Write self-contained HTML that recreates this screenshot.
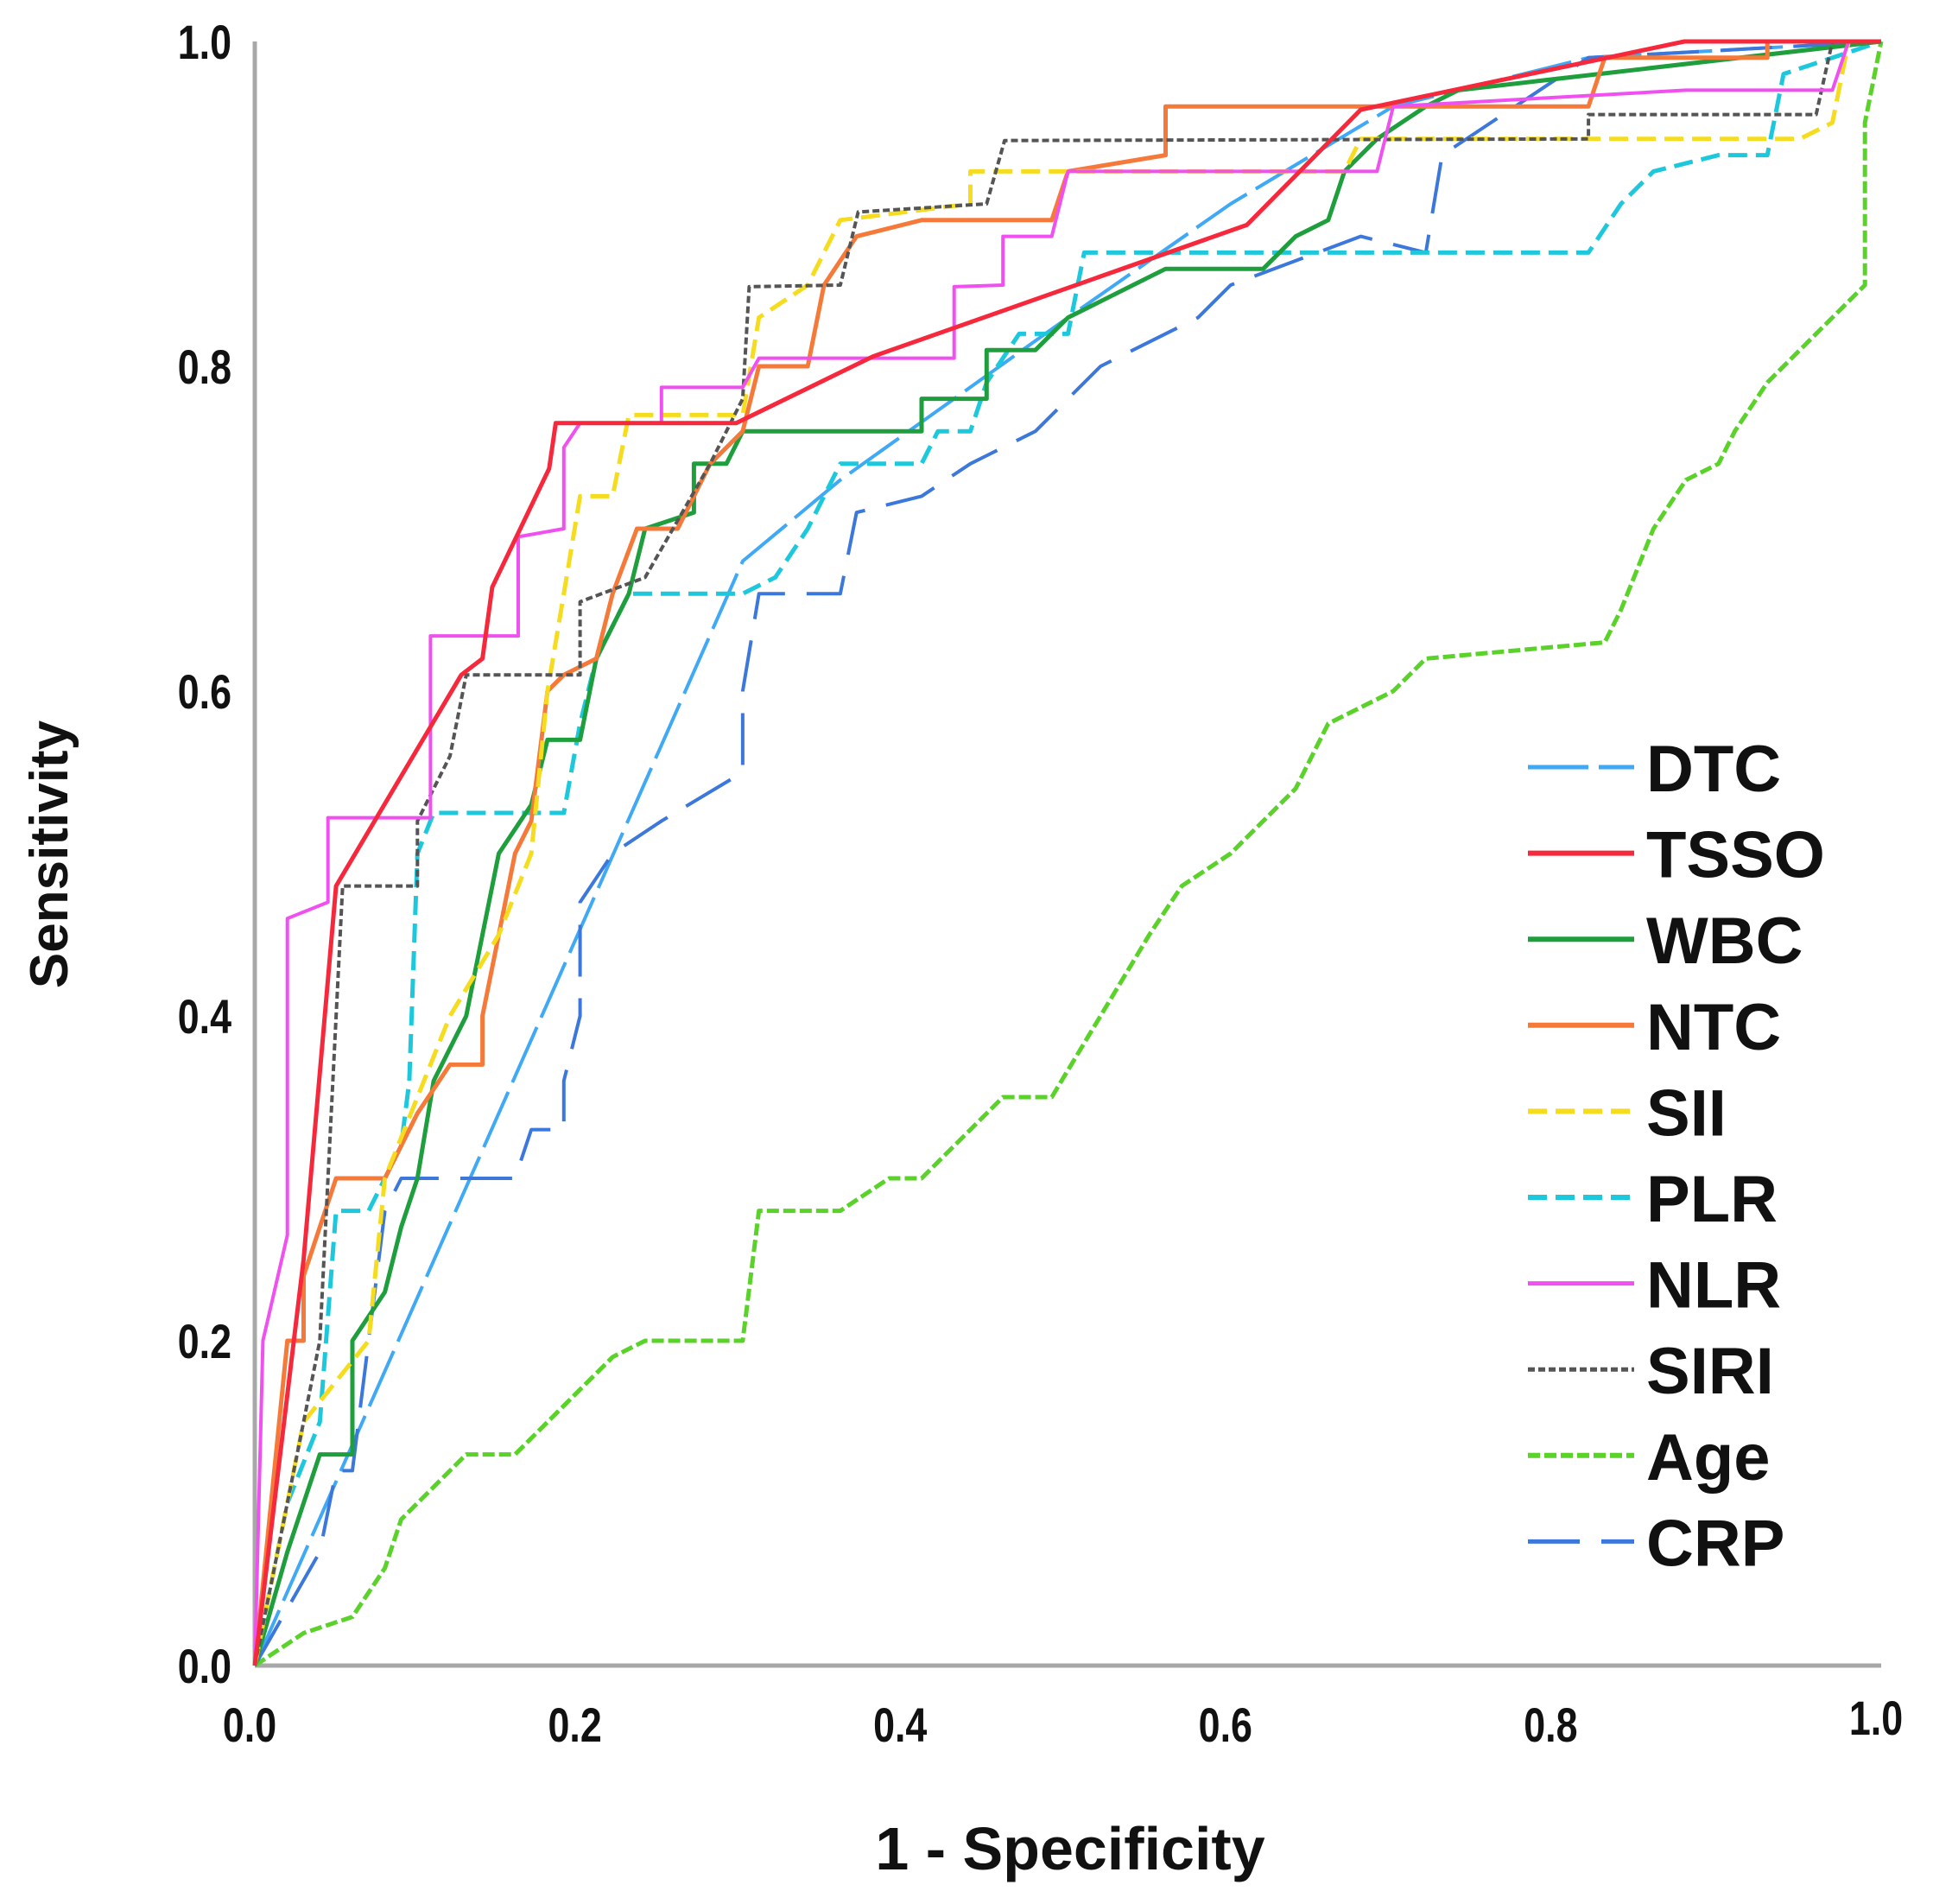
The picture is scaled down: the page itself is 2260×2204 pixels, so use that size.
<!DOCTYPE html>
<html><head><meta charset="utf-8"><style>
html,body{margin:0;padding:0;background:#fff;}
svg{display:block;}
text{font-family:"Liberation Sans",sans-serif;}
</style></head><body>
<svg id="chart" width="2260" height="2204" viewBox="0 0 2260 2204">
<g id="axes"></g>
<g id="series"></g>
<g id="legend"></g>
<text x="78" y="989" transform="rotate(-90 78 989)" text-anchor="middle" font-size="62" font-weight="bold" fill="#111">Sensitivity</text>
<text x="1239" y="2164" text-anchor="middle" font-size="70" font-weight="bold" fill="#111">1 - Specificity</text>
</svg>
<script>
const xTicks=[0,0.2,0.4,0.6,0.8,1.0];
const yTicks=[0,0.2,0.4,0.6,0.8,1.0];
const tickLabels=["0.0","0.2","0.4","0.6","0.8","1.0"];
const seriesNames=["DTC","TSSO","WBC","NTC","SII","PLR","NLR","SIRI","Age","CRP"];
const dtcX=[0,0.3,0.36,0.5,0.6,0.7,0.82,1];
const dtcY=[0,0.68,0.73,0.83,0.9,0.96,0.99,1];
const tssoX=[0,0.03,0.05,0.127,0.14,0.146,0.181,0.185,0.296,0.38,0.61,0.68,0.879,1];
const tssoY=[0,0.25,0.48,0.61,0.62,0.664,0.737,0.765,0.765,0.806,0.887,0.958,1,1];
const wbcX=[0,0.02,0.03,0.04,0.06,0.06,0.08,0.09,0.1,0.11,0.13,0.14,0.15,0.17,0.18,0.2,0.21,0.23,0.24,0.27,0.27,0.29,0.3,0.41,0.41,0.45,0.45,0.48,0.5,0.52,0.54,0.56,0.62,0.64,0.66,0.67,0.69,0.72,0.74,1];
const wbcY=[0,0.07,0.1,0.13,0.13,0.2,0.23,0.27,0.3,0.36,0.4,0.45,0.5,0.53,0.57,0.57,0.62,0.66,0.7,0.71,0.74,0.74,0.76,0.76,0.78,0.78,0.81,0.81,0.83,0.84,0.85,0.86,0.86,0.88,0.89,0.92,0.94,0.96,0.97,1];
const ntcX=[0,0.02,0.03,0.03,0.05,0.08,0.1,0.12,0.14,0.14,0.15,0.16,0.17,0.18,0.19,0.21,0.22,0.235,0.26,0.28,0.3,0.31,0.34,0.35,0.37,0.41,0.49,0.5,0.56,0.56,0.82,0.83,0.93,0.93,1];
const ntcY=[0,0.2,0.2,0.24,0.3,0.3,0.34,0.37,0.37,0.4,0.45,0.5,0.52,0.6,0.61,0.62,0.66,0.7,0.7,0.74,0.76,0.8,0.8,0.85,0.88,0.89,0.89,0.92,0.93,0.96,0.96,0.99,0.99,1,1];
const siiX=[0,0.03,0.07,0.08,0.1,0.12,0.15,0.17,0.18,0.19,0.2,0.22,0.23,0.3,0.31,0.34,0.36,0.44,0.44,0.67,0.68,0.95,0.97,0.98,1];
const siiY=[0,0.15,0.2,0.3,0.35,0.4,0.45,0.5,0.6,0.66,0.72,0.72,0.77,0.77,0.83,0.85,0.89,0.9,0.92,0.92,0.94,0.94,0.95,1,1];
const plrX=[0,0.02,0.04,0.05,0.07,0.09,0.095,0.1,0.11,0.19,0.2,0.21,0.23,0.3,0.32,0.34,0.36,0.41,0.42,0.44,0.45,0.47,0.5,0.51,0.82,0.84,0.86,0.9,0.93,0.94,1];
const plrY=[0,0.1,0.15,0.28,0.28,0.32,0.36,0.5,0.525,0.525,0.58,0.62,0.66,0.66,0.67,0.7,0.74,0.74,0.76,0.76,0.79,0.82,0.82,0.87,0.87,0.9,0.92,0.93,0.93,0.98,1];
const nlrX=[0,0.005,0.02,0.02,0.045,0.045,0.108,0.108,0.162,0.162,0.19,0.19,0.2,0.25,0.25,0.3,0.31,0.43,0.43,0.46,0.46,0.49,0.5,0.69,0.7,0.88,0.97,0.98,1];
const nlrY=[0,0.2,0.265,0.46,0.47,0.522,0.522,0.634,0.634,0.695,0.7,0.75,0.765,0.765,0.787,0.787,0.805,0.805,0.849,0.85,0.88,0.88,0.92,0.92,0.96,0.97,0.97,1,1];
const siriX=[0,0.04,0.054,0.1,0.1,0.12,0.13,0.2,0.2,0.24,0.28,0.3,0.304,0.36,0.371,0.45,0.461,0.82,0.82,0.96,0.97,1];
const siriY=[0,0.2,0.48,0.48,0.52,0.56,0.61,0.61,0.655,0.67,0.74,0.78,0.849,0.85,0.895,0.9,0.939,0.94,0.955,0.955,1,1];
const ageX=[0,0.03,0.06,0.08,0.09,0.1,0.13,0.16,0.19,0.22,0.24,0.3,0.31,0.36,0.39,0.41,0.44,0.46,0.49,0.52,0.55,0.57,0.6,0.62,0.64,0.66,0.7,0.72,0.83,0.84,0.86,0.88,0.9,0.91,0.93,0.95,0.97,0.99,0.99,1];
const ageY=[0,0.02,0.03,0.06,0.09,0.1,0.13,0.13,0.16,0.19,0.2,0.2,0.28,0.28,0.3,0.3,0.33,0.35,0.35,0.4,0.45,0.48,0.5,0.52,0.54,0.58,0.6,0.62,0.63,0.65,0.7,0.73,0.74,0.76,0.79,0.81,0.83,0.85,0.95,1];
const crpX=[0,0.04,0.05,0.06,0.08,0.09,0.16,0.17,0.19,0.19,0.2,0.2,0.22,0.25,0.3,0.3,0.31,0.36,0.37,0.41,0.44,0.48,0.52,0.58,0.6,0.68,0.72,0.73,0.76,0.82,1];
const crpY=[0,0.07,0.12,0.12,0.28,0.3,0.3,0.33,0.33,0.36,0.4,0.47,0.5,0.52,0.55,0.6,0.66,0.66,0.71,0.72,0.74,0.76,0.8,0.83,0.85,0.88,0.87,0.93,0.95,0.99,1];

const X=v=>295+v*1883;
const Y=v=>1928-v*1880;
const NS="http://www.w3.org/2000/svg";
function mk(tag,attrs,parent){const e=document.createElementNS(NS,tag);for(const k in attrs)e.setAttribute(k,attrs[k]);parent.appendChild(e);return e;}

const axes=document.getElementById('axes');
let yl=mk('line',{x1:X(0),y1:Y(1),x2:X(0),y2:Y(0),stroke:'#a8a8a8','stroke-width':5},axes);


let xl=mk('line',{x1:X(0),y1:Y(0),x2:X(1),y2:Y(0),stroke:'#a8a8a8','stroke-width':5},axes);


yTicks.forEach((t,i)=>{
  const e=mk('text',{x:0,y:0,'text-anchor':'end','font-size':56,'font-weight':'bold',fill:'#111',transform:`translate(268 ${Y(t)+20}) scale(0.8 1)`},axes);
  e.textContent=tickLabels[i];
  
  
});
xTicks.forEach((t,i)=>{
  const e=mk('text',{x:0,y:0,'text-anchor':'middle','font-size':56,'font-weight':'bold',fill:'#111',transform:`translate(${X(t)-6} ${2016-(i==5?8:0)}) scale(0.8 1)`},axes);
  e.textContent=tickLabels[i];
  
  
});

const styles={
 DTC:{c:'#3fa9f5',d:'70 12',w:4},
 TSSO:{c:'#f5283c',d:'',w:5},
 WBC:{c:'#1e9e3c',d:'',w:5},
 NTC:{c:'#f57a3a',d:'',w:5},
 SII:{c:'#f5dc1e',d:'22 10',w:5},
 PLR:{c:'#1ec8dc',d:'22 10',w:5},
 NLR:{c:'#f050f0',d:'',w:4},
 SIRI:{c:'#555',d:'8 4',w:4},
 Age:{c:'#5ad22a',d:'14 5',w:5},
 CRP:{c:'#3c78dc',d:'60 25',w:4}
};
const dataX={DTC:dtcX,TSSO:tssoX,WBC:wbcX,NTC:ntcX,SII:siiX,PLR:plrX,NLR:nlrX,SIRI:siriX,Age:ageX,CRP:crpX};
const dataY={DTC:dtcY,TSSO:tssoY,WBC:wbcY,NTC:ntcY,SII:siiY,PLR:plrY,NLR:nlrY,SIRI:siriY,Age:ageY,CRP:crpY};
const order=["Age","DTC","CRP","PLR","WBC","NTC","SII","SIRI","NLR","TSSO"];
const sg=document.getElementById('series');
order.forEach(n=>{
  const s=styles[n];const xs=dataX[n],ys=dataY[n];
  const d=xs.map((x,i)=>(i?'L':'M')+X(x).toFixed(1)+' '+Y(ys[i]).toFixed(1)).join(' ');
  const p=mk('path',{d:d,fill:'none',stroke:s.c,'stroke-width':s.w,'stroke-dasharray':s.d,'stroke-linejoin':'round'},sg);
  
  
});
const lg=document.getElementById('legend');
seriesNames.forEach((n,i)=>{
  const s=styles[n];const y=888+i*99.6;
  const l=mk('line',{x1:1769,y1:y,x2:1892,y2:y,stroke:s.c,'stroke-width':s.w+1,'stroke-dasharray':s.d},lg);
  
  
  const t=mk('text',{x:1906,y:y+28,'font-size':76,'font-weight':'bold',fill:'#111'},lg);
  t.textContent=n;
  
  
});
</script>
</body></html>
